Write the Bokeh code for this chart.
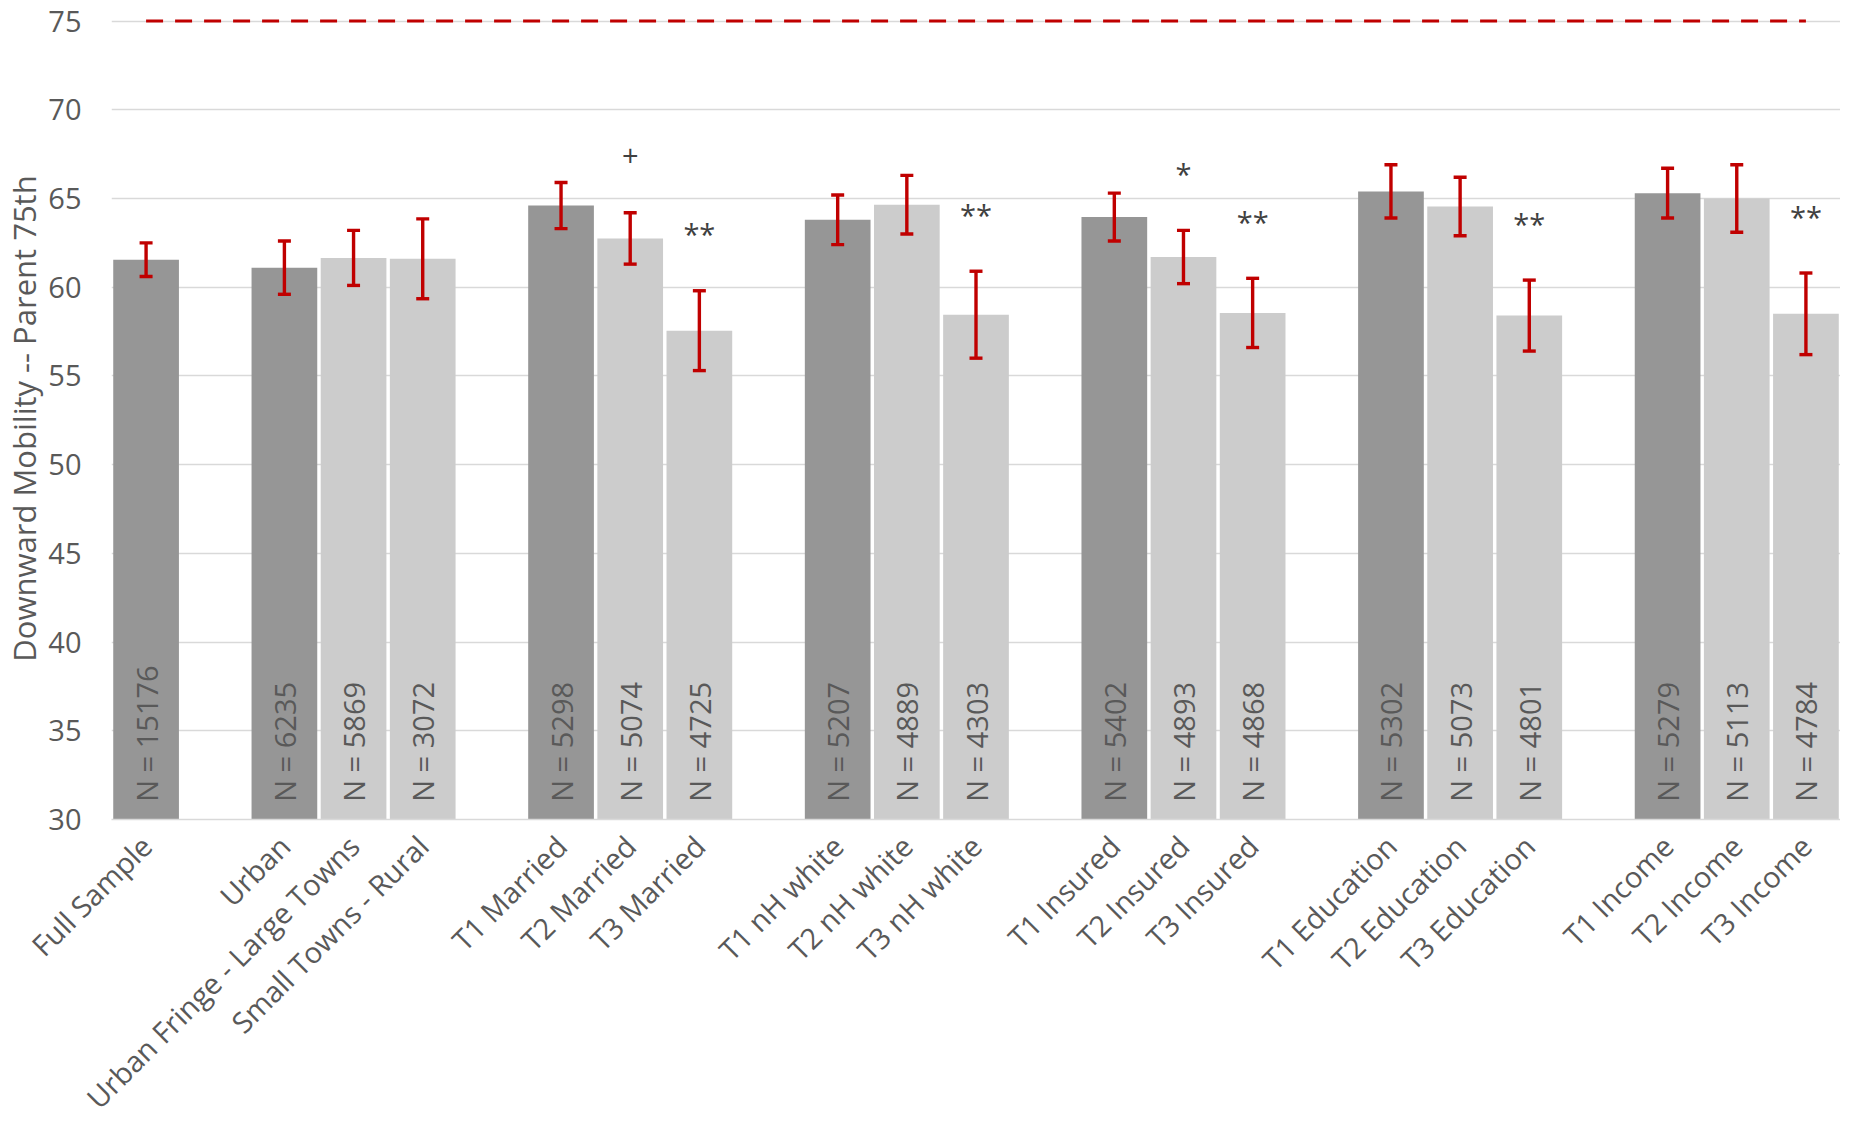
import math
from bokeh.plotting import figure
from bokeh.models import (ColumnDataSource, FactorRange, Range1d, Whisker, TeeHead,
                          FixedTicker)
from bokeh.core.properties import value
from bokeh.embed import file_html
from bokeh.resources import INLINE

# ---------------- data ----------------
groups = ["Overall",
          "Urbanicity", "Urbanicity", "Urbanicity",
          "Married", "Married", "Married",
          "White", "White", "White",
          "Insured", "Insured", "Insured",
          "Education", "Education", "Education",
          "Income", "Income", "Income"]
labels = ["Full Sample",
          "Urban", "Urban Fringe - Large Towns", "Small Towns - Rural",
          "T1 Married", "T2 Married", "T3 Married",
          "T1 nH white", "T2 nH white", "T3 nH white",
          "T1 Insured", "T2 Insured", "T3 Insured",
          "T1 Education", "T2 Education", "T3 Education",
          "T1 Income", "T2 Income", "T3 Income"]
means = [61.55,
         61.1, 61.65, 61.6,
         64.6, 62.75, 57.55,
         63.8, 64.65, 58.45,
         63.95, 61.7, 58.55,
         65.4, 64.55, 58.4,
         65.3, 65.0, 58.5]
half_ci = [0.95,
           1.5, 1.55, 2.25,
           1.3, 1.45, 2.25,
           1.4, 1.65, 2.45,
           1.35, 1.5, 1.95,
           1.5, 1.65, 2.0,
           1.4, 1.9, 2.3]
n_obs = [15176,
         6235, 5869, 3072,
         5298, 5074, 4725,
         5207, 4889, 4303,
         5402, 4893, 4868,
         5302, 5073, 4801,
         5279, 5113, 4784]
sig = ["",
       "", "", "",
       "", "+", "**",
       "", "", "**",
       "", "*", "**",
       "", "", "**",
       "", "", "**"]
reference_value = 75
y_min = 30
y_ticks = [30, 35, 40, 45, 50, 55, 60, 65, 70, 75]
y_title = "Downward Mobility -- Parent 75th"

# ---------------- styling ----------------
FONT = "Open Sans"
TXT = "#595959"
DARK = "#969696"
LIGHT = "#CCCCCC"
RED = "#C00000"
GRID = "#D9D9D9"

# flat category axis with an empty slot between groups
axis_factors = []
n_gap = 0
for i, lab in enumerate(labels):
    if i > 0 and groups[i] != groups[i - 1]:
        n_gap += 1
        axis_factors.append(" " * n_gap)
    axis_factors.append(lab)

colors = [DARK if (i == 0 or groups[i] != groups[i - 1]) else LIGHT for i in range(len(groups))]

src = ColumnDataSource(dict(
    x=labels,
    top=means,
    upper=[m + h for m, h in zip(means, half_ci)],
    lower=[m - h for m, h in zip(means, half_ci)],
    color=colors,
    nlab=["N = %d" % n for n in n_obs],
    sig=sig,
    sig_y=[m + h + 3.2 for m, h in zip(means, half_ci)],
    base=[y_min] * len(means),
    n_y=[y_min + 1.0] * len(means),
))

p = figure(
    x_range=FactorRange(factors=axis_factors, range_padding=0),
    y_range=Range1d(y_min, reference_value + 0.2),
    width=1840, height=1133,
    output_backend="svg", toolbar_location=None,
    min_border_left=105, min_border_right=0, min_border_top=17, min_border_bottom=312,
)
p.outline_line_color = None
p.background_fill_color = "white"

# bars
p.vbar(x="x", top="top", bottom="base", width=0.95, source=src,
       fill_color="color", line_color=None)

# error bars (drawn above the bars)
w = Whisker(source=src, base="x", upper="upper", lower="lower", dimension="height",
            line_color=RED, line_width=3.4, level="overlay",
            upper_head=TeeHead(size=13, line_color=RED, line_width=3.4),
            lower_head=TeeHead(size=13, line_color=RED, line_width=3.4))
p.add_layout(w)

# reference dashed line
p.line(x=[labels[0], labels[-1]], y=[reference_value, reference_value],
       line_color=RED, line_width=3, line_dash="17 12")

# N labels
p.text(x="x", y="n_y", text="nlab", source=src, angle=math.pi / 2,
       text_align="left", text_baseline="middle",
       text_font=value(FONT), text_font_size="29px", text_color=TXT)

# significance markers
p.text(x="x", y="sig_y", text="sig", source=src,
       text_align="center", text_baseline="middle",
       text_font=value(FONT), text_font_size="29px", text_color="#404040")

# axes
p.yaxis.ticker = FixedTicker(ticks=y_ticks)
p.yaxis.axis_line_color = None
p.yaxis.major_tick_line_color = None
p.yaxis.minor_tick_line_color = None
p.yaxis.major_tick_out = 0
p.yaxis.major_label_standoff = 30
p.yaxis.major_label_text_font = FONT
p.yaxis.major_label_text_font_size = "29px"
p.yaxis.major_label_text_color = TXT
p.yaxis.axis_label = y_title
p.yaxis.axis_label_text_font = FONT
p.yaxis.axis_label_text_font_size = "31px"
p.yaxis.axis_label_text_font_style = "normal"
p.yaxis.axis_label_text_color = TXT
p.yaxis.axis_label_standoff = 0

p.xaxis.axis_line_color = GRID
p.xaxis.axis_line_width = 1.5
p.xaxis.major_tick_line_color = None
p.xaxis.minor_tick_line_color = None
p.xaxis.major_tick_out = 0
p.xaxis.major_tick_in = 0
p.xaxis.major_label_orientation = math.pi / 4
p.xaxis.major_label_standoff = 21
p.xaxis.major_label_text_font = FONT
p.xaxis.major_label_text_font_size = "29px"
p.xaxis.major_label_text_color = TXT

p.xgrid.grid_line_color = None
p.ygrid.grid_line_color = GRID
p.ygrid.grid_line_width = 1.5

open("out.html", "w").write(file_html(p, INLINE))
